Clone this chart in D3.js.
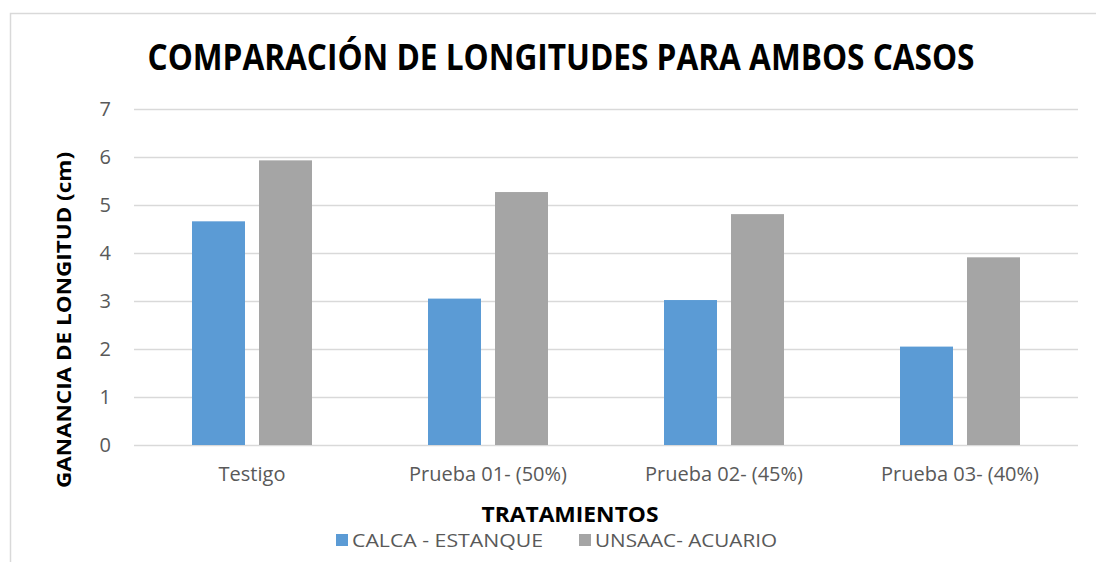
<!DOCTYPE html>
<html>
<head>
<meta charset="utf-8">
<script src="https://cdn.jsdelivr.net/npm/d3@7"></script>
<style>
  html, body { margin: 0; padding: 0; background: #fff; }
  svg { display: block; font-family: "Open Sans", "Noto Sans", sans-serif; }
</style>
</head>
<body>
<svg id="chart" width="1096" height="562"></svg>
<script>
// Ganancia de longitud (cm) por tratamiento
const categories = ["Testigo", "Prueba 01- (50%)", "Prueba 02- (45%)", "Prueba 03- (40%)"];
const seriesNames = ["CALCA - ESTANQUE", "UNSAAC- ACUARIO"];
const calcaEstanque = [4.66, 3.05, 3.02, 2.05];
const unsaacAcuario = [5.93, 5.27, 4.81, 3.91];
const yTicks = [0, 1, 2, 3, 4, 5, 6, 7];

const colors = ["#5b9bd5", "#a5a5a5"];
const series = [calcaEstanque, unsaacAcuario];

const svg = d3.select("#chart");
const plot = { left: 134, right: 1078, top: 109, bottom: 445 };

// chart frame
svg.append("path")
  .attr("d", "M10.5,562 L10.5,13.5 L1096,13.5")
  .attr("fill", "none").attr("stroke", "#d9d9d9").attr("stroke-width", 1.5);

const y = d3.scaleLinear().domain([0, 7]).range([plot.bottom, plot.top]);
const x0 = d3.scaleBand().domain(categories).range([plot.left, plot.right]).padding(0);
const groupWidth = 120;
const x1 = d3.scaleBand().domain(seriesNames).range([0, groupWidth]).paddingInner(14 / 67);

// gridlines + value labels
const yAxis = d3.axisLeft(y).tickValues(yTicks).tickSize(-(plot.right - plot.left)).tickPadding(23).tickFormat(d3.format("d"));
const gy = svg.append("g").attr("transform", `translate(${plot.left},0)`).call(yAxis);
gy.select(".domain").remove();
gy.selectAll(".tick line").attr("stroke", "#d9d9d9").attr("stroke-width", 1.4);
gy.selectAll(".tick text").attr("fill", "#595959").attr("font-size", 20).attr("font-family", "Open Sans, sans-serif");

// bars
const groups = svg.append("g").selectAll("g")
  .data(categories)
  .join("g")
  .attr("transform", d => `translate(${x0(d) + (x0.bandwidth() - groupWidth) / 2},0)`);

groups.selectAll("rect")
  .data((d, i) => seriesNames.map((s, k) => ({ s, k, v: series[k][i] })))
  .join("rect")
  .attr("x", d => x1(d.s))
  .attr("width", x1.bandwidth())
  .attr("y", d => y(d.v))
  .attr("height", d => y(0) - y(d.v))
  .attr("fill", d => colors[d.k]);

// category axis labels
const xAxis = d3.axisBottom(x0).tickSize(0).tickPadding(22);
const gx = svg.append("g").attr("transform", `translate(0,${plot.bottom})`).call(xAxis);
gx.select(".domain").remove();
gx.selectAll(".tick text").attr("fill", "#595959").attr("font-size", 20).attr("font-family", "Open Sans, sans-serif");

// title
svg.append("text")
  .attr("x", 561).attr("y", 70)
  .attr("text-anchor", "middle")
  .attr("font-size", 36).attr("font-weight", 700).attr("fill", "#000")
  .attr("textLength", 827).attr("lengthAdjust", "spacingAndGlyphs")
  .text("COMPARACIÓN DE LONGITUDES PARA AMBOS CASOS");

// y axis title
svg.append("text")
  .attr("transform", "translate(71,320) rotate(-90)")
  .attr("text-anchor", "middle")
  .attr("font-size", 20).attr("font-weight", 700).attr("fill", "#000")
  .attr("textLength", 336).attr("lengthAdjust", "spacingAndGlyphs")
  .text("GANANCIA DE LONGITUD (cm)");

// x axis title
svg.append("text")
  .attr("x", 570).attr("y", 522)
  .attr("text-anchor", "middle")
  .attr("font-size", 21).attr("font-weight", 700).attr("fill", "#000")
  .attr("textLength", 177).attr("lengthAdjust", "spacingAndGlyphs")
  .text("TRATAMIENTOS");

// legend
const legendItems = [
  { name: seriesNames[0], color: colors[0], x: 336, w: 191 },
  { name: seriesNames[1], color: colors[1], x: 579, w: 182 }
];
const lg = svg.append("g").selectAll("g").data(legendItems).join("g")
  .attr("transform", d => `translate(${d.x},540)`);
lg.append("rect").attr("x", 0).attr("y", -6).attr("width", 12).attr("height", 12).attr("fill", d => d.color);
lg.append("text").attr("x", 16).attr("y", 7)
  .attr("font-size", 19).attr("fill", "#595959")
  .attr("textLength", d => d.w).attr("lengthAdjust", "spacingAndGlyphs")
  .text(d => d.name);
</script>
</body>
</html>
